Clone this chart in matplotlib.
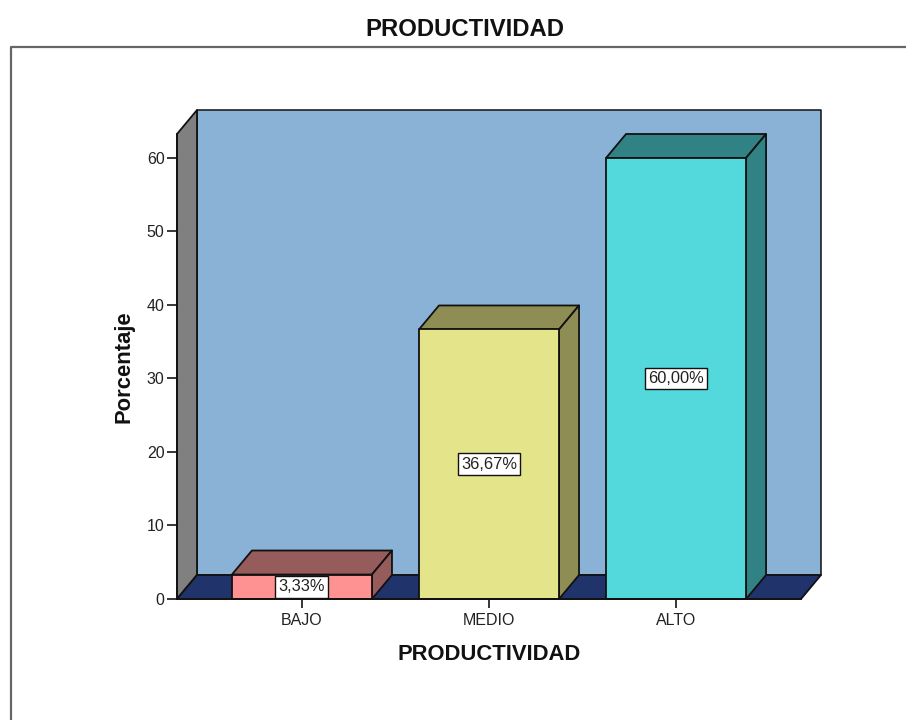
import matplotlib
matplotlib.use('Agg')
import matplotlib.pyplot as plt
from matplotlib.lines import Line2D
from matplotlib.patches import Polygon

categories = ['BAJO', 'MEDIO', 'ALTO']
percentages = [3.33, 36.67, 60.00]
value_labels = ['3,33%', '36,67%', '60,00%']
y_ticks = [0, 10, 20, 30, 40, 50, 60]
front_colors = ['#FE9292', '#E4E58A', '#53D8DC']
shade_colors = ['#965C5C', '#8E8E54', '#318284']

W, H = 906, 720
EDGE = '#111111'
plt.rcParams['font.family'] = ['Liberation Sans', 'DejaVu Sans']

fig = plt.figure(figsize=(W / 100, H / 100), dpi=100, facecolor='white')

# axes box in pixels, y runs down in the picture
left, right, top, bottom = 177, 821, 110, 599
ax = fig.add_axes([left / W, 1 - bottom / H, (right - left) / W, (bottom - top) / H])
ax.set_xlim(-0.668, 2.775)
ax.set_ylim(0, 66.53)
ax.patch.set_visible(False)

# depth of the fake 3d, in data units
dx = 20 / 187
dy = 24 / 7.35
bar_w = 140 / 187
x0, x1 = ax.get_xlim()
y1 = ax.get_ylim()[1]


def poly(points, color, z=1, lw=1.3):
    ax.add_patch(Polygon(points, closed=True, facecolor=color, edgecolor=EDGE,
                         linewidth=lw, joinstyle='round', zorder=z, clip_on=False))


# walls and floor
poly([(x0 + dx, dy), (x1, dy), (x1, y1), (x0 + dx, y1)], '#8AB2D6', 1, 1.1)
poly([(x0, 0), (x0 + dx, dy), (x0 + dx, y1), (x0, y1 - dy)], '#808080', 2)
poly([(x0, 0), (x1 - dx, 0), (x1, dy), (x0 + dx, dy)], '#20336B', 2)

for i, (val, front, shade, label) in enumerate(zip(percentages, front_colors, shade_colors, value_labels)):
    l = i - bar_w / 2
    r = i + bar_w / 2
    poly([(l, val), (r, val), (r + dx, val + dy), (l + dx, val + dy)], shade, 3)
    poly([(r, 0), (r + dx, dy), (r + dx, val + dy), (r, val)], shade, 3)
    poly([(l, 0), (r, 0), (r, val), (l, val)], front, 4)
    ax.text(i, val / 2, label, ha='center', va='center', fontsize=11.8, color='#222222', zorder=6,
            bbox=dict(boxstyle='square,pad=0.2', facecolor='white', edgecolor=EDGE, linewidth=1.0))

for side in ['top', 'right']:
    ax.spines[side].set_visible(False)
ax.spines['left'].set_bounds(0, y1 - dy)
ax.spines['bottom'].set_bounds(x0, x1 - dx)
ax.spines['left'].set_linewidth(1.3)
ax.spines['bottom'].set_linewidth(1.3)
ax.spines['left'].set_color(EDGE)
ax.spines['bottom'].set_color(EDGE)
ax.spines['left'].set_zorder(5)
ax.spines['bottom'].set_zorder(5)

ax.set_xticks(range(len(categories)), categories)
ax.set_yticks(y_ticks)
ax.tick_params(axis='y', length=7.5, width=1.1, pad=1.5, labelsize=11.5, labelcolor='#222222')
ax.tick_params(axis='x', length=6.5, width=1.1, pad=3.5, labelsize=11.5, labelcolor='#222222')

# labels and title are placed in pixels to sit where the original has them
fig.text(124 / W, 1 - 366.5 / H, 'Porcentaje', rotation=90, ha='center', va='center',
         fontsize=15.8, fontweight='bold', color='#111111')
fig.text(489 / W, 1 - 655 / H, 'PRODUCTIVIDAD', ha='center', va='center',
         fontsize=15.8, fontweight='bold', color='#111111')
fig.text(464.5 / W, 1 - 29.5 / H, 'PRODUCTIVIDAD', ha='center', va='center',
         fontsize=17.2, fontweight='bold', color='#111111')

# outer chart frame runs off the picture
frame_x = [10.5 / W, 10.5 / W, 1]
frame_y = [0, 1 - 47 / H, 1 - 47 / H]
fig.add_artist(Line2D(frame_x, frame_y, color='#666666', linewidth=1.6))

fig.savefig('out.png', dpi=100)
